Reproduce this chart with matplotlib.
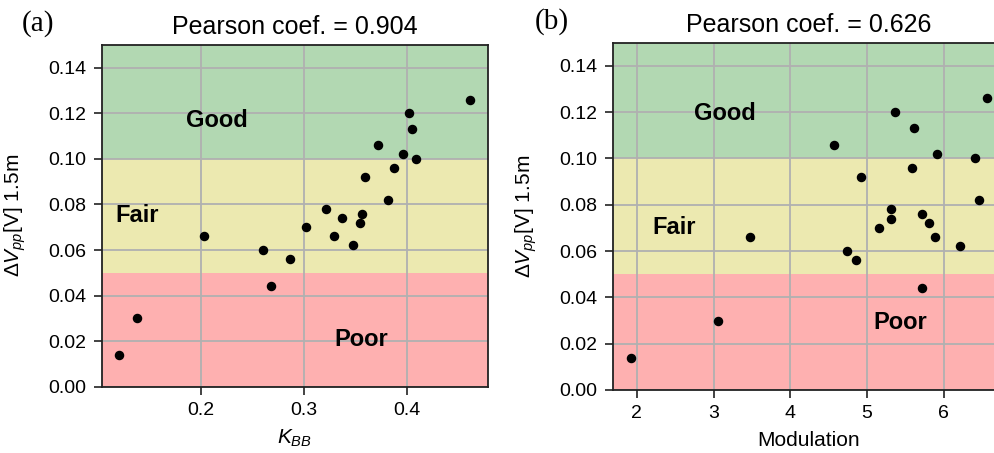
import matplotlib
matplotlib.use("Agg")
import matplotlib.pyplot as plt

plt.rcParams['font.family'] = ['Liberation Sans', 'DejaVu Sans']
plt.rcParams['mathtext.fontset'] = 'custom'
plt.rcParams['mathtext.rm'] = 'Liberation Sans'
plt.rcParams['mathtext.it'] = 'Liberation Sans:italic'
plt.rcParams['mathtext.bf'] = 'Liberation Sans:bold'

# Peak-to-peak voltage at 1.5 m for each sample
dvpp = [0.126, 0.120, 0.113, 0.106, 0.102, 0.100, 0.096, 0.092, 0.082, 0.078, 0.076,
        0.074, 0.072, 0.070, 0.066, 0.066, 0.062, 0.060, 0.056, 0.044, 0.030, 0.014]
# Blackbody-based quality metric
kbb = [0.462, 0.402, 0.405, 0.3725, 0.397, 0.409, 0.388, 0.360, 0.382, 0.322, 0.357,
       0.337, 0.355, 0.3025, 0.329, 0.203, 0.348, 0.260, 0.287, 0.268, 0.1375, 0.120]
# Modulation values
modulation = [6.56, 5.36, 5.61, 4.57, 5.91, 6.41, 5.59, 4.92, 6.46, 5.31, 5.71,
              5.31, 5.80, 5.16, 5.88, 3.48, 6.21, 4.74, 4.86, 5.71, 3.06, 1.92]

pearson = ["0.904", "0.626"]
panel_tags = ["(a)", "(b)"]
bands = [(0.0, 0.05, "#feb0b0"), (0.05, 0.10, "#ece9b0"), (0.10, 0.15, "#b2d8b2")]
yticks = [0.00, 0.02, 0.04, 0.06, 0.08, 0.10, 0.12, 0.14]

fig = plt.figure(figsize=(9.95, 4.53), dpi=100)
ax_a = fig.add_axes([0.1022, 0.1464, 0.3882, 0.7543])
ax_b = fig.add_axes([0.6158, 0.1391, 0.3943, 0.7667])


def style_axis(ax, xs, xlim, xticks, xlabel, labels_pos):
    for lo, hi, col in bands:
        ax.axhspan(lo, hi, color=col, zorder=0.5, lw=0)
    ax.set_axisbelow('line')
    ax.grid(True, color="#b0b0b0", lw=1.3)
    ax.scatter(xs, dvpp, s=34, color="black", zorder=3)
    ax.set_xlim(*xlim)
    ax.set_ylim(0, 0.15)
    ax.set_xticks(xticks)
    ax.set_yticks(yticks)
    ax.set_yticklabels([f"{v:.2f}" for v in yticks])
    ax.tick_params(labelsize=14, length=6, width=1.2, color="#222222", pad=5)
    for sp in ax.spines.values():
        sp.set_color("#222222")
        sp.set_linewidth(1.3)
    ax.set_xlabel(xlabel, fontsize=15, labelpad=6)
    ax.set_ylabel("Δ$V_{pp}$[V] 1.5m", fontsize=15)
    for (txt, (x, y)) in zip(["Good", "Fair", "Poor"], labels_pos):
        ax.text(x, y, txt, fontsize=17, fontweight="bold", ha="center",
                va="center", zorder=4)


style_axis(ax_a, kbb, (0.1034, 0.4792), [0.2, 0.3, 0.4], "$K_{BB}$",
           [(0.215, 0.117), (0.138, 0.075), (0.356, 0.0205)])
style_axis(ax_b, modulation, (1.6875, 6.796), [2, 3, 4, 5, 6], "Modulation",
           [(3.15, 0.1195), (2.486, 0.070), (5.43, 0.029)])

ax_a.yaxis.set_label_coords(-0.191, 0.5)
ax_b.yaxis.set_label_coords(-0.188, 0.5)

for ax, r in zip([ax_a, ax_b], pearson):
    ax.set_title(f"Pearson coef. = {r}", fontsize=18, pad=8)

fig.text(22 / 995, 1 - 10 / 453, panel_tags[0], fontsize=21, va="top", ha="left",
         family=["Liberation Serif", "DejaVu Serif"])
fig.text(535 / 995, 1 - 8 / 453, panel_tags[1], fontsize=21, va="top", ha="left",
         family=["Liberation Serif", "DejaVu Serif"])

fig.savefig("out.png", dpi=100)
